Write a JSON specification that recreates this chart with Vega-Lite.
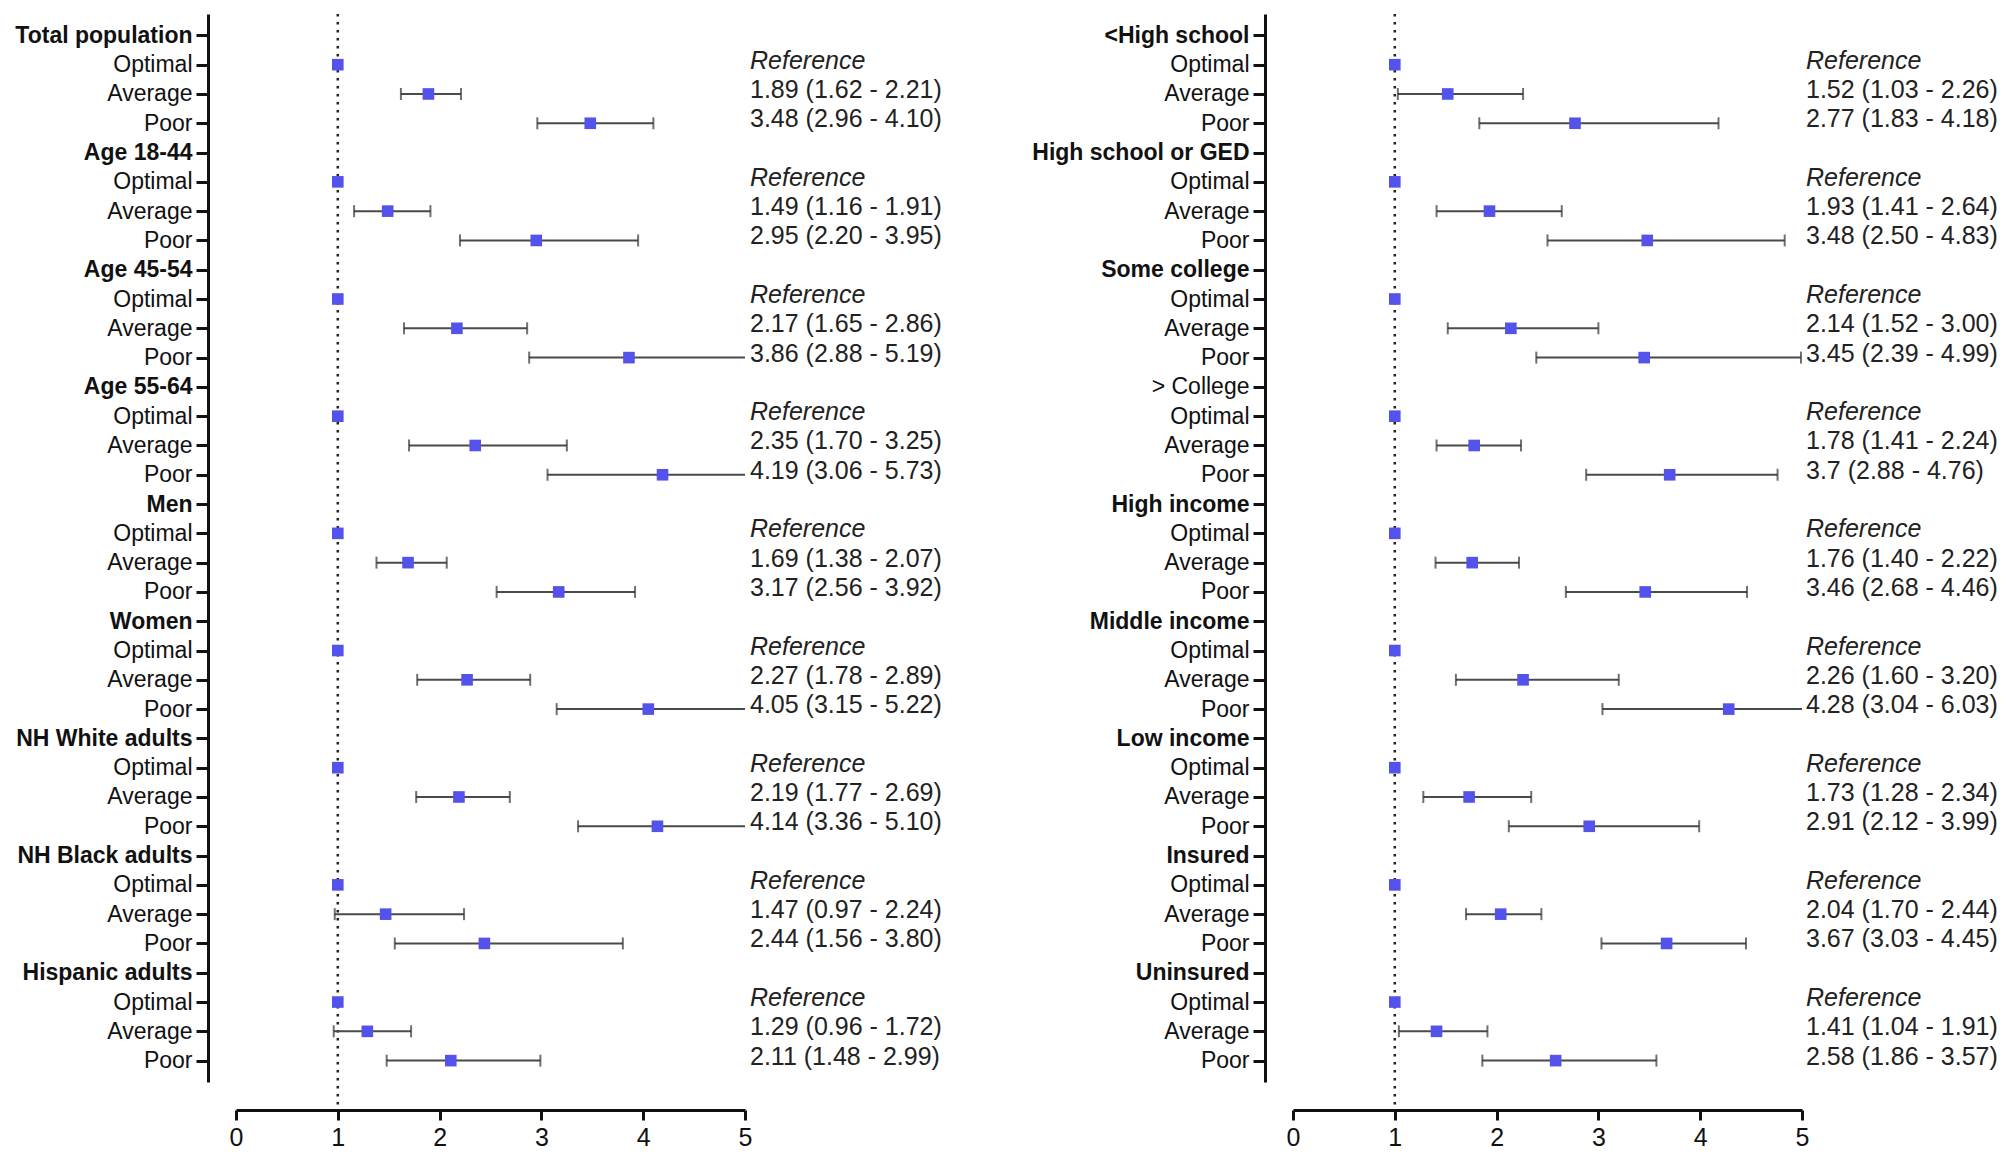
{
  "$schema": "https://vega.github.io/schema/vega-lite/v6.json",
  "padding": {"left": 14, "top": 12, "right": 0, "bottom": 0},
  "spacing": 89,
  "config": {
    "view": {"stroke": null},
    "font": "Liberation Sans",
    "axisX": {"title": null, "grid": false, "format": "d", "domainColor": "#111", "domainWidth": 3, "tickColor": "#111", "tickWidth": 3, "tickSize": 10, "labelFont": "Liberation Sans", "labelFontSize": 25, "labelColor": "#111", "labelPadding": 5, "labelFlush": false},
    "axisY": {"title": null, "grid": false, "domainColor": "#111", "domainWidth": 3, "tickColor": "#111", "tickWidth": 3, "tickSize": 12, "labelFont": "Liberation Sans", "labelFontSize": 23, "labelColor": "#111", "labelPadding": 4, "labelLimit": 400, "offset": 28}
  },
  "datasets": {
    "d": [
      {"s":"L","k":"01 Total population","t":"H","ci":""},
      {"s":"L","k":"02 Optimal","t":"O","est":1,"ci":"Reference"},
      {"s":"L","k":"03 Average\u00a0","t":"A","est":1.89,"lo":1.62,"hi":2.21,"ci":"1.89 (1.62 - 2.21)"},
      {"s":"L","k":"04 Poor","t":"P","est":3.48,"lo":2.96,"hi":4.10,"ci":"3.48 (2.96 - 4.10)"},
      {"s":"L","k":"05 Age 18-44","t":"H","ci":""},
      {"s":"L","k":"06 Optimal","t":"O","est":1,"ci":"Reference"},
      {"s":"L","k":"07 Average\u00a0","t":"A","est":1.49,"lo":1.16,"hi":1.91,"ci":"1.49 (1.16 - 1.91)"},
      {"s":"L","k":"08 Poor","t":"P","est":2.95,"lo":2.20,"hi":3.95,"ci":"2.95 (2.20 - 3.95)"},
      {"s":"L","k":"09 Age 45-54","t":"H","ci":""},
      {"s":"L","k":"10 Optimal","t":"O","est":1,"ci":"Reference"},
      {"s":"L","k":"11 Average\u00a0","t":"A","est":2.17,"lo":1.65,"hi":2.86,"ci":"2.17 (1.65 - 2.86)"},
      {"s":"L","k":"12 Poor","t":"P","est":3.86,"lo":2.88,"hi":5.19,"ci":"3.86 (2.88 - 5.19)"},
      {"s":"L","k":"13 Age 55-64","t":"H","ci":""},
      {"s":"L","k":"14 Optimal","t":"O","est":1,"ci":"Reference"},
      {"s":"L","k":"15 Average\u00a0","t":"A","est":2.35,"lo":1.70,"hi":3.25,"ci":"2.35 (1.70 - 3.25)"},
      {"s":"L","k":"16 Poor","t":"P","est":4.19,"lo":3.06,"hi":5.73,"ci":"4.19 (3.06 - 5.73)"},
      {"s":"L","k":"17 Men","t":"H","ci":""},
      {"s":"L","k":"18 Optimal","t":"O","est":1,"ci":"Reference"},
      {"s":"L","k":"19 Average\u00a0","t":"A","est":1.69,"lo":1.38,"hi":2.07,"ci":"1.69 (1.38 - 2.07)"},
      {"s":"L","k":"20 Poor","t":"P","est":3.17,"lo":2.56,"hi":3.92,"ci":"3.17 (2.56 - 3.92)"},
      {"s":"L","k":"21 Women","t":"H","ci":""},
      {"s":"L","k":"22 Optimal","t":"O","est":1,"ci":"Reference"},
      {"s":"L","k":"23 Average\u00a0","t":"A","est":2.27,"lo":1.78,"hi":2.89,"ci":"2.27 (1.78 - 2.89)"},
      {"s":"L","k":"24 Poor","t":"P","est":4.05,"lo":3.15,"hi":5.22,"ci":"4.05 (3.15 - 5.22)"},
      {"s":"L","k":"25 NH White adults","t":"H","ci":""},
      {"s":"L","k":"26 Optimal","t":"O","est":1,"ci":"Reference"},
      {"s":"L","k":"27 Average\u00a0","t":"A","est":2.19,"lo":1.77,"hi":2.69,"ci":"2.19 (1.77 - 2.69)"},
      {"s":"L","k":"28 Poor","t":"P","est":4.14,"lo":3.36,"hi":5.10,"ci":"4.14 (3.36 - 5.10)"},
      {"s":"L","k":"29 NH Black adults","t":"H","ci":""},
      {"s":"L","k":"30 Optimal","t":"O","est":1,"ci":"Reference"},
      {"s":"L","k":"31 Average\u00a0","t":"A","est":1.47,"lo":0.97,"hi":2.24,"ci":"1.47 (0.97 - 2.24)"},
      {"s":"L","k":"32 Poor","t":"P","est":2.44,"lo":1.56,"hi":3.80,"ci":"2.44 (1.56 - 3.80)"},
      {"s":"L","k":"33 Hispanic adults","t":"H","ci":""},
      {"s":"L","k":"34 Optimal","t":"O","est":1,"ci":"Reference"},
      {"s":"L","k":"35 Average\u00a0","t":"A","est":1.29,"lo":0.96,"hi":1.72,"ci":"1.29 (0.96 - 1.72)"},
      {"s":"L","k":"36 Poor","t":"P","est":2.11,"lo":1.48,"hi":2.99,"ci":"2.11 (1.48 - 2.99)"},
      {"s":"R","k":"01 <High school","t":"H","ci":""},
      {"s":"R","k":"02 Optimal","t":"O","est":1,"ci":"Reference"},
      {"s":"R","k":"03 Average","t":"A","est":1.52,"lo":1.03,"hi":2.26,"ci":"1.52 (1.03 - 2.26)"},
      {"s":"R","k":"04 Poor","t":"P","est":2.77,"lo":1.83,"hi":4.18,"ci":"2.77 (1.83 - 4.18)"},
      {"s":"R","k":"05 High school or GED","t":"H","ci":""},
      {"s":"R","k":"06 Optimal","t":"O","est":1,"ci":"Reference"},
      {"s":"R","k":"07 Average","t":"A","est":1.93,"lo":1.41,"hi":2.64,"ci":"1.93 (1.41 - 2.64)"},
      {"s":"R","k":"08 Poor","t":"P","est":3.48,"lo":2.50,"hi":4.83,"ci":"3.48 (2.50 - 4.83)"},
      {"s":"R","k":"09 Some college","t":"H","ci":""},
      {"s":"R","k":"10 Optimal","t":"O","est":1,"ci":"Reference"},
      {"s":"R","k":"11 Average","t":"A","est":2.14,"lo":1.52,"hi":3.00,"ci":"2.14 (1.52 - 3.00)"},
      {"s":"R","k":"12 Poor","t":"P","est":3.45,"lo":2.39,"hi":4.99,"ci":"3.45 (2.39 - 4.99)"},
      {"s":"R","k":"13 > College","t":"H","ci":""},
      {"s":"R","k":"14 Optimal","t":"O","est":1,"ci":"Reference"},
      {"s":"R","k":"15 Average","t":"A","est":1.78,"lo":1.41,"hi":2.24,"ci":"1.78 (1.41 - 2.24)"},
      {"s":"R","k":"16 Poor","t":"P","est":3.7,"lo":2.88,"hi":4.76,"ci":"3.7 (2.88 - 4.76)"},
      {"s":"R","k":"17 High income","t":"H","ci":""},
      {"s":"R","k":"18 Optimal","t":"O","est":1,"ci":"Reference"},
      {"s":"R","k":"19 Average","t":"A","est":1.76,"lo":1.40,"hi":2.22,"ci":"1.76 (1.40 - 2.22)"},
      {"s":"R","k":"20 Poor","t":"P","est":3.46,"lo":2.68,"hi":4.46,"ci":"3.46 (2.68 - 4.46)"},
      {"s":"R","k":"21 Middle income","t":"H","ci":""},
      {"s":"R","k":"22 Optimal","t":"O","est":1,"ci":"Reference"},
      {"s":"R","k":"23 Average","t":"A","est":2.26,"lo":1.60,"hi":3.20,"ci":"2.26 (1.60 - 3.20)"},
      {"s":"R","k":"24 Poor","t":"P","est":4.28,"lo":3.04,"hi":6.03,"ci":"4.28 (3.04 - 6.03)"},
      {"s":"R","k":"25 Low income","t":"H","ci":""},
      {"s":"R","k":"26 Optimal","t":"O","est":1,"ci":"Reference"},
      {"s":"R","k":"27 Average","t":"A","est":1.73,"lo":1.28,"hi":2.34,"ci":"1.73 (1.28 - 2.34)"},
      {"s":"R","k":"28 Poor","t":"P","est":2.91,"lo":2.12,"hi":3.99,"ci":"2.91 (2.12 - 3.99)"},
      {"s":"R","k":"29 Insured","t":"H","ci":""},
      {"s":"R","k":"30 Optimal","t":"O","est":1,"ci":"Reference"},
      {"s":"R","k":"31 Average","t":"A","est":2.04,"lo":1.70,"hi":2.44,"ci":"2.04 (1.70 - 2.44)"},
      {"s":"R","k":"32 Poor","t":"P","est":3.67,"lo":3.03,"hi":4.45,"ci":"3.67 (3.03 - 4.45)"},
      {"s":"R","k":"33 Uninsured","t":"H","ci":""},
      {"s":"R","k":"34 Optimal","t":"O","est":1,"ci":"Reference"},
      {"s":"R","k":"35 Average","t":"A","est":1.41,"lo":1.04,"hi":1.91,"ci":"1.41 (1.04 - 1.91)"},
      {"s":"R","k":"36 Poor","t":"P","est":2.58,"lo":1.86,"hi":3.57,"ci":"2.58 (1.86 - 3.57)"}
    ]
  },
  "hconcat": [
    {
      "width": 509, "height": 1096,
      "data": {"name": "d"},
      "transform": [{"filter": "datum.s == 'L'"}],
      "layer": [
        {"transform": [{"filter": "datum.k == '02 Optimal'"}],
         "mark": {"type": "rule", "strokeDash": [2.5, 5.5], "strokeWidth": 2.5, "color": "#222"},
         "encoding": {"x": {"field": "est", "type": "quantitative", "title": null, "scale": {"domain": [0, 5], "nice": false, "zero": false}, "axis": {"values": [0, 1, 2, 3, 4, 5]}}}},
        {"encoding": {"y": {"field": "k", "type": "ordinal", "title": null,
            "scale": {"type": "point", "range": [0, 1068], "padding": 0.73},
            "axis": {"labelExpr": "substring(datum.value, 3)",
                     "labelFontWeight": {"condition": {"test": "indexof(['Optimal','Average','Average\u00a0','Poor','> College'], substring(datum.value, 3)) < 0", "value": "bold"}, "value": "normal"}}}},
         "layer": [
           {"transform": [{"filter": "datum.t == 'A' || datum.t == 'P'"}],
            "mark": {"type": "rule", "clip": true, "strokeWidth": 2, "color": "#4a4a4a"},
            "encoding": {"x": {"field": "lo", "type": "quantitative", "title": null}, "x2": {"field": "hi"}}},
           {"transform": [{"filter": "datum.t == 'A' || datum.t == 'P'"}],
            "mark": {"type": "tick", "clip": true, "size": 12, "thickness": 2, "color": "#333"},
            "encoding": {"x": {"field": "lo", "type": "quantitative", "title": null}}},
           {"transform": [{"filter": "datum.t == 'A' || datum.t == 'P'"}],
            "mark": {"type": "tick", "clip": true, "size": 12, "thickness": 2, "color": "#333"},
            "encoding": {"x": {"field": "hi", "type": "quantitative", "title": null}}},
           {"transform": [{"filter": "datum.t != 'H'"}],
            "mark": {"type": "square", "filled": true, "size": 135, "color": "#5353ec", "opacity": 1},
            "encoding": {"x": {"field": "est", "type": "quantitative", "title": null}}},
           {"transform": [{"filter": "datum.t == 'O'"}],
            "mark": {"type": "text", "align": "left", "baseline": "middle", "dx": 5, "dy": -4, "fontSize": 25, "fontStyle": "italic", "font": "Liberation Sans", "color": "#222"},
            "encoding": {"x": {"datum": 5, "type": "quantitative"}, "text": {"field": "ci"}}},
           {"transform": [{"filter": "datum.t != 'O'"}],
            "mark": {"type": "text", "align": "left", "baseline": "middle", "dx": 5, "dy": -4, "fontSize": 25, "font": "Liberation Sans", "color": "#222"},
            "encoding": {"x": {"datum": 5, "type": "quantitative"}, "text": {"field": "ci"}}}
         ]}
      ]
    },
    {
      "width": 509, "height": 1096,
      "data": {"name": "d"},
      "transform": [{"filter": "datum.s == 'R'"}],
      "layer": [
        {"transform": [{"filter": "datum.k == '02 Optimal'"}],
         "mark": {"type": "rule", "strokeDash": [2.5, 5.5], "strokeWidth": 2.5, "color": "#222"},
         "encoding": {"x": {"field": "est", "type": "quantitative", "title": null, "scale": {"domain": [0, 5], "nice": false, "zero": false}, "axis": {"values": [0, 1, 2, 3, 4, 5]}}}},
        {"encoding": {"y": {"field": "k", "type": "ordinal", "title": null,
            "scale": {"type": "point", "range": [0, 1068], "padding": 0.73},
            "axis": {"labelExpr": "substring(datum.value, 3)",
                     "labelFontWeight": {"condition": {"test": "indexof(['Optimal','Average','Average\u00a0','Poor','> College'], substring(datum.value, 3)) < 0", "value": "bold"}, "value": "normal"}}}},
         "layer": [
           {"transform": [{"filter": "datum.t == 'A' || datum.t == 'P'"}],
            "mark": {"type": "rule", "clip": true, "strokeWidth": 2, "color": "#4a4a4a"},
            "encoding": {"x": {"field": "lo", "type": "quantitative", "title": null}, "x2": {"field": "hi"}}},
           {"transform": [{"filter": "datum.t == 'A' || datum.t == 'P'"}],
            "mark": {"type": "tick", "clip": true, "size": 12, "thickness": 2, "color": "#333"},
            "encoding": {"x": {"field": "lo", "type": "quantitative", "title": null}}},
           {"transform": [{"filter": "datum.t == 'A' || datum.t == 'P'"}],
            "mark": {"type": "tick", "clip": true, "size": 12, "thickness": 2, "color": "#333"},
            "encoding": {"x": {"field": "hi", "type": "quantitative", "title": null}}},
           {"transform": [{"filter": "datum.t != 'H'"}],
            "mark": {"type": "square", "filled": true, "size": 135, "color": "#5353ec", "opacity": 1},
            "encoding": {"x": {"field": "est", "type": "quantitative", "title": null}}},
           {"transform": [{"filter": "datum.t == 'O'"}],
            "mark": {"type": "text", "align": "left", "baseline": "middle", "dx": 4, "dy": -4, "fontSize": 25, "fontStyle": "italic", "font": "Liberation Sans", "color": "#222"},
            "encoding": {"x": {"datum": 5, "type": "quantitative"}, "text": {"field": "ci"}}},
           {"transform": [{"filter": "datum.t != 'O'"}],
            "mark": {"type": "text", "align": "left", "baseline": "middle", "dx": 4, "dy": -4, "fontSize": 25, "font": "Liberation Sans", "color": "#222"},
            "encoding": {"x": {"datum": 5, "type": "quantitative"}, "text": {"field": "ci"}}}
         ]}
      ]
    }
  ]
}
